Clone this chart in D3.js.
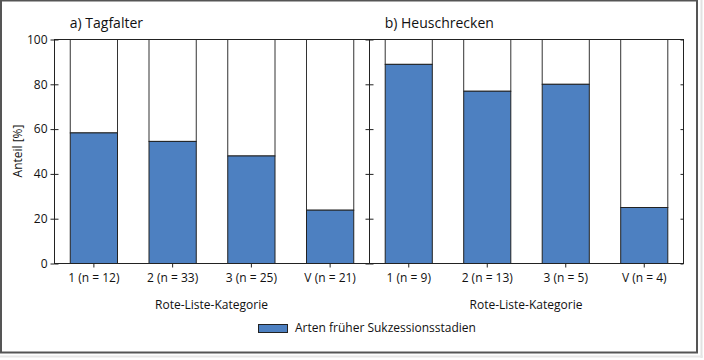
<!DOCTYPE html>
<html><head><meta charset="utf-8">
<script src="https://cdn.jsdelivr.net/npm/d3@7"></script>
<style>
html,body{margin:0;padding:0;background:#fff;}
svg{display:block;}
text{font-family:"Open Sans",sans-serif;fill:#111;}
</style></head>
<body>
<svg id="chart" width="704" height="360"></svg>
<script>
const categoriesA = ["1 (n = 12)", "2 (n = 33)", "3 (n = 25)", "V (n = 21)"];
const valuesA = [58.3, 54.5, 48.0, 23.8];
const categoriesB = ["1 (n = 9)", "2 (n = 13)", "3 (n = 5)", "V (n = 4)"];
const valuesB = [88.9, 76.9, 80.0, 25.0];
const yTicks = [0, 20, 40, 60, 80, 100];
const panelTitles = ["a) Tagfalter", "b) Heuschrecken"];
const xAxisTitle = "Rote-Liste-Kategorie";
const yAxisTitle = "Anteil [%]";
const legendLabel = "Arten früher Sukzessionsstadien";

const BLUE = "#4d80c1";
const svg = d3.select("#chart");

// outer frame with slight shadow
svg.append("line").attr("x1", 701.5).attr("x2", 701.5).attr("y1", 0).attr("y2", 358)
  .attr("stroke", "#e2e2e2").attr("stroke-width", 2);
svg.append("line").attr("x1", 0).attr("x2", 703).attr("y1", 356.5).attr("y2", 356.5)
  .attr("stroke", "#e8e8e8").attr("stroke-width", 2);
svg.append("rect").attr("x", 1).attr("y", 0.5).attr("width", 696).attr("height", 352)
  .attr("fill", "#fff").attr("stroke", "#555").attr("stroke-width", 2);

const plotTop = 39, plotBottom = 263;
const y = d3.scaleLinear().domain([0, 100]).range([plotBottom, plotTop]);

const panels = [
  {x0: 54, x1: 369, cats: categoriesA, vals: valuesA, title: panelTitles[0]},
  {x0: 369, x1: 683, cats: categoriesB, vals: valuesB, title: panelTitles[1]}
];

panels.forEach((p, pi) => {
  const x = d3.scaleBand().domain(p.cats).range([p.x0, p.x1]).paddingInner(0.4).paddingOuter(0.2);
  const g = svg.append("g");
  const data = p.cats.map((c, i) => ({c, v: p.vals[i]}));

  // white remainder
  g.selectAll("rect.rest").data(data).join("rect").attr("class", "rest")
    .attr("x", d => x(d.c) + 0.5).attr("width", x.bandwidth())
    .attr("y", y(100) + 0.5).attr("height", d => y(d.v) - y(100))
    .attr("fill", "#fff").attr("stroke", "#333").attr("stroke-width", 1);
  // blue part
  g.selectAll("rect.val").data(data).join("rect").attr("class", "val")
    .attr("x", d => x(d.c) + 0.5).attr("width", x.bandwidth())
    .attr("y", d => y(d.v) + 0.5).attr("height", d => y(0) - y(d.v))
    .attr("fill", BLUE).attr("stroke", "#222").attr("stroke-width", 1);

  // frame
  g.append("rect").attr("x", p.x0 + 0.5).attr("y", plotTop + 0.5)
    .attr("width", p.x1 - p.x0).attr("height", plotBottom - plotTop)
    .attr("fill", "none").attr("stroke", "#222").attr("stroke-width", 1);

  // y axis left (labels only for panel a)
  const axL = d3.axisLeft(y).tickValues(yTicks).tickSize(4).tickPadding(3);
  if (pi === 1) axL.tickFormat("");
  const gl = g.append("g").attr("transform", `translate(${p.x0 + 0.5},0.5)`).call(axL);
  gl.select(".domain").remove();
  gl.selectAll("text").style("font-size", "12px").attr("fill", "#111");
  gl.selectAll("line").attr("stroke", "#222");
  const gli = g.append("g").attr("transform", `translate(${p.x0 + 0.5},0.5)`)
    .call(d3.axisRight(y).tickValues(yTicks).tickSize(4).tickFormat(""));
  gli.select(".domain").remove();
  gli.selectAll("line").attr("stroke", "#222");
  // right side inward ticks
  const gr = g.append("g").attr("transform", `translate(${p.x1 + 0.5},0.5)`)
    .call(d3.axisLeft(y).tickValues(yTicks).tickSize(pi === 1 ? 3 : 0).tickFormat(""));
  gr.select(".domain").remove();
  gr.selectAll("line").attr("stroke", "#222");

  // x axis
  const gx = g.append("g").attr("transform", `translate(0.5,${plotBottom + 0.5})`)
    .call(d3.axisBottom(x).tickSize(4).tickPadding(6));
  gx.select(".domain").remove();
  gx.selectAll("text").style("font-size", "12px").attr("fill", "#111");
  gx.selectAll("line").attr("stroke", "#222");

  // x title
  g.append("text").attr("x", (p.x0 + p.x1) / 2).attr("y", 309)
    .attr("text-anchor", "middle").style("font-size", "12px").text(xAxisTitle);
  // panel title
  g.append("text").attr("x", x(p.cats[0])).attr("y", 28)
    .style("font-size", "14px").text(p.title);
});

// y axis title
svg.append("text").attr("transform", "translate(22,151) rotate(-90)")
  .attr("text-anchor", "middle").style("font-size", "12px").text(yAxisTitle);

// legend
svg.append("rect").attr("x", 258.5).attr("y", 324.5).attr("width", 29).attr("height", 8)
  .attr("fill", BLUE).attr("stroke", "#222").attr("stroke-width", 1);
svg.append("text").attr("x", 295).attr("y", 332).style("font-size", "12px").text(legendLabel);
</script>
</body></html>
